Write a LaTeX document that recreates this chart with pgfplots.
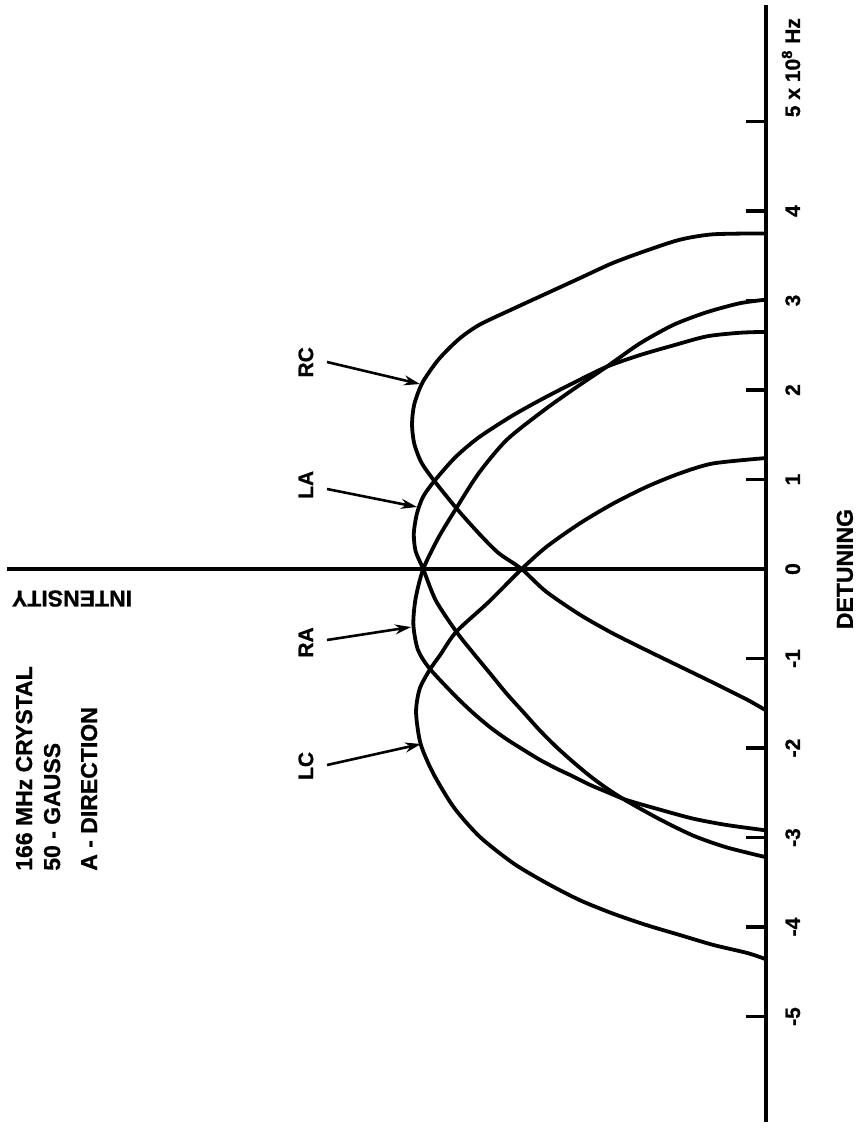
\documentclass[border=0pt]{standalone}
\usepackage{fontspec}
\setmainfont{Liberation Sans}[BoldFeatures={FakeBold=0.8}]
\usepackage{pgfplots}
\pgfplotsset{compat=1.18}
\usetikzlibrary{arrows.meta}

% curves: (intensity, detuning), detuning in units of 10^8 Hz
\pgfplotstableread{
I d
0 3.75
0.59 3.74
0.96 3.68
1.33 3.56
1.71 3.42
2.08 3.25
2.45 3.08
2.82 2.91
3.20 2.73
3.43 2.57
3.66 2.34
3.84 2.08
3.93 1.84
3.955 1.62
3.93 1.40
3.85 1.19
3.71 0.99
3.46 0.68
3.21 0.40
2.99 0.18
2.73 0.0
2.46 -0.25
2.08 -0.51
1.71 -0.72
1.33 -0.91
0.96 -1.09
0.59 -1.27
0.21 -1.46
0 -1.58
}\rc
\pgfplotstableread{
I d
0 1.24
0.59 1.18
0.96 1.07
1.33 0.92
1.71 0.73
2.08 0.51
2.45 0.25
2.73 0.0
3.10 -0.37
3.46 -0.70
3.64 -0.96
3.76 -1.13
3.87 -1.34
3.91 -1.60
3.86 -1.95
3.72 -2.28
3.49 -2.66
3.20 -2.99
2.82 -3.29
2.45 -3.51
2.08 -3.70
1.71 -3.85
1.33 -3.98
0.96 -4.09
0.59 -4.20
0.21 -4.29
0 -4.36
}\lc
\pgfplotstableread{
I d
0 2.65
0.29 2.64
0.66 2.60
1.03 2.50
1.41 2.39
1.78 2.26
2.15 2.08
2.50 1.90
2.84 1.71
3.21 1.47
3.47 1.25
3.70 0.99
3.83 0.81
3.90 0.62
3.935 0.40
3.915 0.20
3.83 0.0
3.69 -0.35
3.46 -0.70
3.27 -0.94
3.08 -1.17
2.90 -1.39
2.71 -1.60
2.53 -1.80
2.34 -1.99
2.15 -2.16
1.97 -2.31
1.78 -2.45
1.56 -2.59
1.18 -2.80
0.81 -2.98
0.44 -3.11
0 -3.22
}\la
\pgfplotstableread{
I d
0 3.01
0.29 2.97
0.66 2.87
1.03 2.73
1.41 2.52
1.78 2.26
2.15 2.01
2.50 1.76
2.90 1.44
3.21 1.07
3.46 0.68
3.66 0.35
3.83 0.0
3.915 -0.33
3.94 -0.62
3.89 -0.90
3.76 -1.11
3.47 -1.42
3.27 -1.61
3.08 -1.77
2.90 -1.90
2.71 -2.02
2.53 -2.13
2.34 -2.23
2.15 -2.32
1.97 -2.41
1.78 -2.49
1.56 -2.58
1.18 -2.69
0.81 -2.79
0.44 -2.86
0 -2.92
}\ra

\begin{document}
\begin{tikzpicture}
\begin{axis}[
  scale only axis, width=383pt, height=565pt,
  x dir=reverse, xmin=0, xmax=8.559, ymin=-6.268, ymax=6.358,
  axis lines=none, clip=false,
]
% page frame
\path (axis cs:8.559,6.358) rectangle (axis cs:-1.061,-6.268);
% axes
\draw[line width=2.2pt] (axis cs:0,6.30) -- (axis cs:0,-6.18);
\draw[line width=1.8pt] (axis cs:0,0) -- (axis cs:8.48,0);
\pgfplotsinvokeforeach{-5,...,5}{
  \draw[line width=1.6pt] (axis cs:0,#1) -- (axis cs:0.22,#1);
}
\pgfplotsinvokeforeach{-5,...,4}{
  \node[rotate=90, anchor=base, font=\fontsize{10.5}{12}\selectfont\bfseries] at (axis cs:-0.38,#1) {#1};
}
\node[rotate=90, anchor=base west, font=\fontsize{10.5}{12}\selectfont\bfseries] at (axis cs:-0.38,4.97) {5 x 10\textsuperscript{8} Hz};
\node[rotate=90, anchor=base, font=\fontsize{11.5}{13}\selectfont\bfseries] at (axis cs:-0.97,0) {DETUNING};
\node[rotate=180, anchor=center, font=\fontsize{11.5}{13}\selectfont\bfseries] at (axis cs:7.754,-0.33) {INTENSITY};

% curves
\addplot[black, line width=1.9pt, smooth, tension=0.45] table[x=I, y=d] {\rc};
\addplot[black, line width=1.9pt, smooth, tension=0.45] table[x=I, y=d] {\lc};
\addplot[black, line width=1.9pt, smooth, tension=0.45] table[x=I, y=d] {\la};
\addplot[black, line width=1.9pt, smooth, tension=0.45] table[x=I, y=d] {\ra};

% curve labels
\begin{scope}[every node/.style={rotate=90, anchor=base, font=\fontsize{10.5}{12}\selectfont\bfseries}]
\node at (axis cs:5.06,2.31) {RC};
\node at (axis cs:5.06,0.94) {LA};
\node at (axis cs:5.06,-0.82) {RA};
\node at (axis cs:5.06,-2.20) {LC};
\end{scope}
\begin{scope}[line width=1.3pt, -{Stealth[length=8pt,width=5pt]}]
\draw (axis cs:4.905,2.313) -- (axis cs:3.866,2.067);
\draw (axis cs:4.905,0.894) -- (axis cs:3.899,0.693);
\draw (axis cs:4.905,-0.793) -- (axis cs:3.966,-0.648);
\draw (axis cs:4.905,-2.190) -- (axis cs:3.855,-1.955);
\end{scope}

% sample description
\begin{scope}[every node/.style={rotate=90, anchor=base west, font=\fontsize{11.5}{13}\selectfont\bfseries}]
\node at (axis cs:8.201,-3.45) {166 MHz CRYSTAL};
\node at (axis cs:7.888,-3.45) {50 - GAUSS};
\node at (axis cs:7.475,-3.45) {A - DIRECTION};
\end{scope}
\end{axis}
\end{tikzpicture}
\end{document}
